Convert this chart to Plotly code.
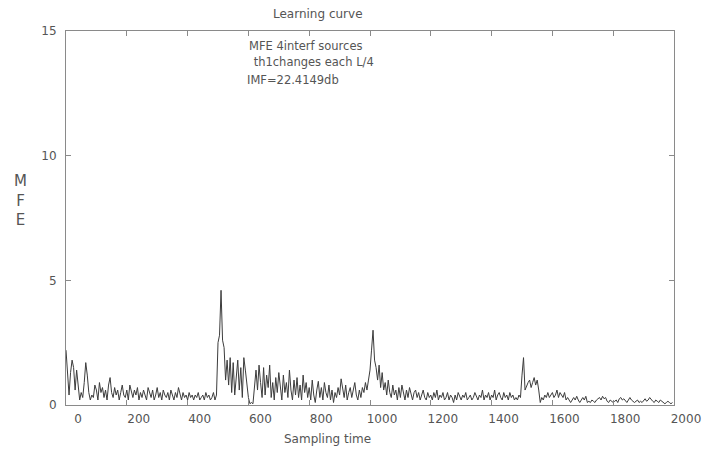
import plotly.graph_objects as go

# MFE learning curve, one value read every 5 samples
sample_step = 5

mfe_seg1 = [2.2, 1.2, 0.4, 1.3, 1.8, 1.5, 0.6, 1.4, 0.9, 0.2,
            0.5, 0.3, 0.9, 1.7, 1.2, 0.5, 0.2, 0.4, 0.3, 0.8,
            0.6, 0.2, 0.9, 0.5, 0.7, 0.3, 0.6, 0.2, 0.8, 1.1,
            0.5, 0.3, 0.7, 0.4, 0.6, 0.2, 0.5, 0.8, 0.4, 0.3,
            0.6, 0.2, 0.8, 0.5, 0.3, 0.6, 0.4, 0.7, 0.2, 0.5,
            0.3, 0.6, 0.4, 0.2, 0.7, 0.5, 0.3, 0.6, 0.2, 0.4,
            0.7, 0.3, 0.5, 0.2, 0.6, 0.4, 0.3, 0.5, 0.2, 0.6,
            0.4, 0.2, 0.5, 0.3, 0.7, 0.4, 0.2, 0.5, 0.3, 0.4,
            0.2, 0.5, 0.3, 0.4, 0.2, 0.4, 0.3, 0.5, 0.2, 0.3,
            0.4, 0.2, 0.5, 0.3, 0.4, 0.2, 0.3, 0.5, 0.2, 0.4]
mfe_seg2 = [2.5, 2.8, 4.6, 2.6, 2.3, 1.0, 1.8, 0.8, 1.9, 0.5,
            1.7, 0.4, 1.2, 1.8, 0.6, 1.5, 0.3, 1.9, 1.4, 0.9,
            0.3, 0.05, 0.1, 0.05, 0.8, 1.4, 0.6, 1.6, 0.9, 0.3,
            1.5, 0.4, 1.2, 0.7, 1.6, 0.3, 0.9, 0.2, 1.1, 0.5,
            1.3, 0.6, 0.2, 1.2, 0.5, 0.9, 0.3, 1.4, 0.6, 0.2,
            1.0, 0.4, 1.1, 0.3, 0.8, 0.2, 1.2, 0.5, 0.9, 0.3,
            0.7, 0.2, 1.0, 0.4, 0.1, 0.6, 0.95, 0.3, 0.7, 0.2,
            0.9, 0.5, 0.3, 0.8, 0.2, 0.6, 0.1, 0.5, 0.3, 0.7,
            0.4, 1.05, 0.6, 0.3, 0.8, 0.2, 0.5, 0.7, 0.3, 0.6,
            0.9, 0.4, 0.2, 0.6, 0.3, 0.7, 0.5, 0.9, 0.6, 1.0]
mfe_seg3 = [1.4, 2.2, 3.0, 1.8, 1.5, 1.0, 1.6, 0.7, 1.3, 0.6,
            0.9, 0.4, 1.0, 0.5, 0.3, 0.8, 0.4, 0.6, 0.2, 0.7,
            0.3, 0.8, 0.5, 0.2, 0.6, 0.3, 0.7, 0.4, 0.2, 0.5,
            0.6, 0.3, 0.5, 0.2, 0.4, 0.6, 0.3, 0.2, 0.5, 0.3,
            0.4, 0.2, 0.5, 0.3, 0.6, 0.2, 0.4, 0.3, 0.5, 0.2,
            0.3, 0.5, 0.2, 0.4, 0.3, 0.1, 0.4, 0.2, 0.5, 0.3,
            0.2, 0.4, 0.3, 0.5, 0.2, 0.3, 0.4, 0.2, 0.3, 0.5,
            0.3, 0.2, 0.4, 0.3, 0.6, 0.2, 0.4, 0.3, 0.5, 0.2,
            0.4, 0.3, 0.6, 0.2, 0.4, 0.5, 0.3, 0.2, 0.5, 0.3,
            0.4, 0.2, 0.5, 0.3, 0.4, 0.2, 0.3, 0.2, 0.4, 0.3]
mfe_seg4 = [1.2, 1.9, 0.6, 0.8, 0.9, 1.0, 0.7, 0.9, 1.1, 0.8,
            1.0, 0.6, 0.1, 0.3, 0.2, 0.4, 0.3, 0.5, 0.3, 0.4,
            0.5, 0.3, 0.4, 0.6, 0.3, 0.5, 0.4, 0.3, 0.5, 0.2,
            0.3, 0.2, 0.1, 0.2, 0.3, 0.2, 0.35, 0.2, 0.1, 0.2,
            0.3, 0.2, 0.35, 0.1, 0.15, 0.1, 0.2, 0.15, 0.1, 0.2,
            0.25, 0.3, 0.2, 0.35, 0.25, 0.3, 0.15, 0.1, 0.2, 0.15,
            0.1, 0.15, 0.2, 0.1, 0.25, 0.3, 0.2, 0.25, 0.15, 0.1,
            0.2, 0.3, 0.2, 0.15, 0.1, 0.15, 0.2, 0.1, 0.15, 0.1,
            0.2, 0.25, 0.15, 0.2, 0.3, 0.2, 0.15, 0.1, 0.2, 0.15,
            0.1, 0.2, 0.15, 0.1, 0.05, 0.1, 0.15, 0.1, 0.05, 0.1]

mfe = mfe_seg1 + mfe_seg2 + mfe_seg3 + mfe_seg4
samples = [i * sample_step for i in range(len(mfe))]

x_ticks = [0, 200, 400, 600, 800, 1000, 1200, 1400, 1600, 1800, 2000]
y_ticks = [0, 5, 10, 15]

FONT = "DejaVu Sans"
TEXT = "#555555"
AXIS = "#8a8a8a"

fig = go.Figure()
fig.add_trace(go.Scatter(
    x=samples, y=mfe,
    mode="lines",
    line=dict(color="#3c3c3c", width=1),
    showlegend=False
))

axis_style = dict(
    showline=True, linecolor=AXIS, linewidth=1, mirror="ticks",
    ticks="inside", ticklen=5, tickcolor=AXIS,
    showgrid=False, zeroline=False,
    tickfont=dict(family=FONT, size=12, color=TEXT)
)

# page body adds an 8px margin, so the figure is 8px smaller
fig.update_layout(
    width=705, height=442,
    margin=dict(l=58, r=34, t=23, b=45),
    plot_bgcolor="white", paper_bgcolor="white",
    xaxis=dict(range=[0, 2000], tickvals=x_ticks, ticklabelshift=12,
               ticklabelstandoff=3, **axis_style),
    yaxis=dict(range=[0, 15], tickvals=y_ticks, ticklabelstandoff=6,
               **axis_style),
)

notes = [
    ("Learning curve", 0.414, 1.045, "center", 12),
    ("MFE 4interf sources", 0.2985, 0.96, "left", 11.5),
    (" th1changes each L/4", 0.300, 0.917, "left", 11.5),
    ("IMF=22.4149db", 0.2936, 0.869, "left", 11.5),
    ("Sampling time", 0.43, -0.091, "center", 12),
    ("M<br>F<br>E", -0.075, 0.548, "center", 15),
]
for text, x, y, anchor, size in notes:
    fig.add_annotation(text=text, x=x, y=y, xref="paper", yref="paper",
                       xanchor=anchor, yanchor="middle", showarrow=False,
                       font=dict(family=FONT, size=size, color=TEXT))

fig.write_html("out.html")
